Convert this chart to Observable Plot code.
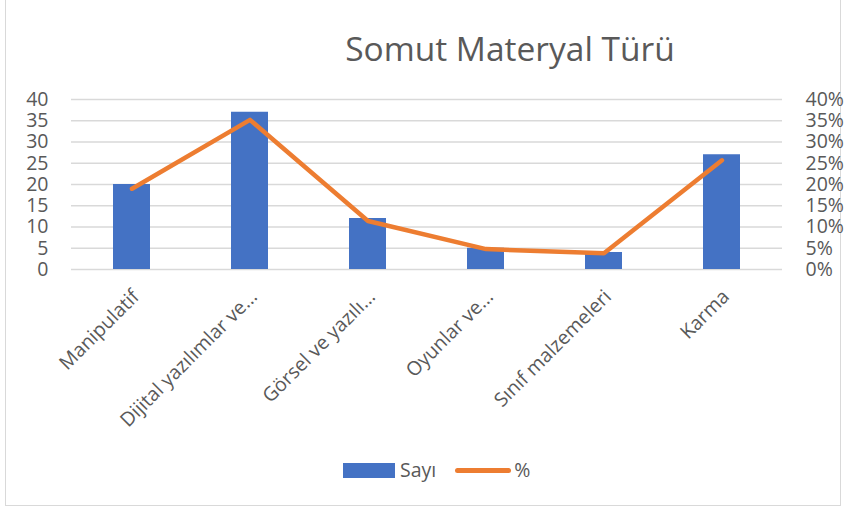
<!DOCTYPE html>
<html><head><meta charset="utf-8">
<script src="https://cdn.jsdelivr.net/npm/d3@7"></script>
<script src="https://cdn.jsdelivr.net/npm/@observablehq/plot@0.6"></script>
<style>
body{margin:0;background:#fff;}
#wrap{position:relative;width:848px;height:508px;overflow:hidden;font-family:"Open Sans",sans-serif;color:#595959;}
#frame{position:absolute;left:5px;top:-2px;width:836px;height:508px;border:1px solid #d9d9d9;box-sizing:border-box;}
#title{position:absolute;left:0;top:32px;width:1020px;text-align:center;font-size:33.5px;line-height:1;color:#595959;white-space:nowrap;}
#chart{position:absolute;left:0;top:0;}
#legend{position:absolute;left:343px;top:457px;height:26px;display:flex;align-items:center;font-size:19.5px;line-height:1;color:#595959;}
.sw-bar{width:52px;height:15px;background:#4472C4;margin-right:5px;}
.sw-line{width:56px;height:5px;border-radius:3px;background:#ED7D31;margin-left:19px;margin-right:3px;}
</style></head>
<body>
<div id="wrap">
  <div id="frame"></div>
  <div id="title">Somut Materyal Türü</div>
  <div id="chart"></div>
  <div id="legend"><div class="sw-bar"></div><span>Sayı</span><div class="sw-line"></div><span>%</span></div>
</div>
<script>
const categories = ["Manipulatif", "Dijital yazılımlar ve...", "Görsel ve yazılı...", "Oyunlar ve...", "Sınıf malzemeleri", "Karma"];
const counts = [20, 37, 12, 5, 4, 27];
const percents = [19.0, 35.2, 11.4, 4.8, 3.8, 25.7];
const yTicks = [0, 5, 10, 15, 20, 25, 30, 35, 40];

const data = categories.map((c, i) => ({cat: c, count: counts[i], pct: percents[i]}));

const chart = Plot.plot({
  width: 848,
  height: 508,
  marginTop: 99,
  marginBottom: 239,
  marginLeft: 71,
  marginRight: 66,
  style: {fontFamily: "'Open Sans', sans-serif", fontSize: "19.5px", color: "#595959", background: "transparent"},
  x: {domain: categories, paddingInner: 0.686, paddingOuter: 0.343, label: null},
  y: {domain: [0, 40], label: null},
  marks: [
    Plot.gridY(yTicks, {stroke: "#d9d9d9", strokeOpacity: 1, strokeWidth: 1.6}),
    Plot.barY(data, {x: "cat", y: "count", fill: "#4472C4"}),
    Plot.line(data, {x: "cat", y: "pct", stroke: "#ED7D31", strokeWidth: 4.5, strokeLinecap: "round", strokeLinejoin: "round"}),
    Plot.axisY(yTicks, {anchor: "left", tickSize: 0, tickPadding: 23, fill: "#595959", label: null}),
    Plot.axisY(yTicks, {anchor: "right", tickSize: 0, tickPadding: 23, tickFormat: d => d + "%", fill: "#595959", label: null}),
    Plot.axisX({tickRotate: -45, tickSize: 0, tickPadding: 24, dx: 4, fill: "#595959", label: null})
  ]
});
document.getElementById("chart").appendChild(chart);
</script>
</body></html>
